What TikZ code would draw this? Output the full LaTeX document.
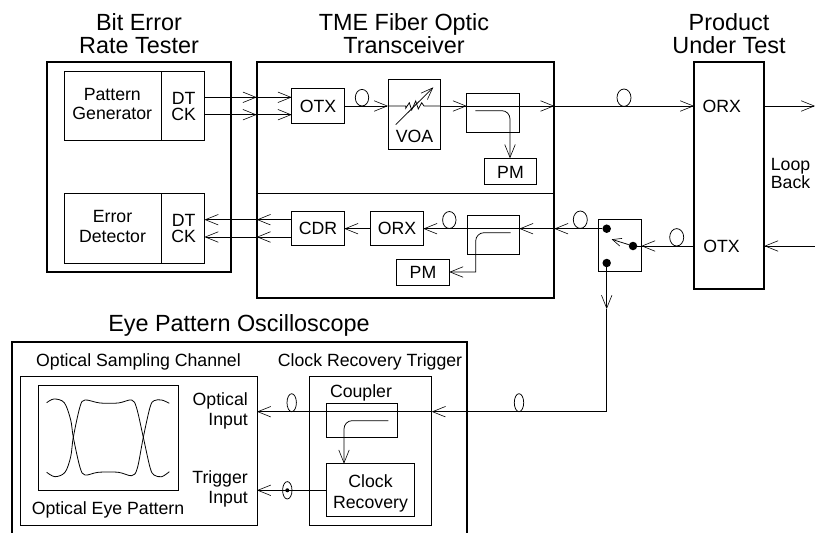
\documentclass[tikz,border=0pt]{standalone}
\usepackage{fontspec}
\setmainfont{Liberation Sans}
\usetikzlibrary{arrows.meta}
\tikzset{
 x=1pt,y=-1pt,
 box/.style={draw,line width=0.75pt,inner sep=0pt,outer sep=0pt,anchor=north west},
 heavy/.style={line width=1.7pt},
 plain/.style={line width=0.75pt},
 arr/.style={plain,-{Straight Barb[length=13pt,width=10.5pt,line width=0.6pt]}},
 arrs/.style={plain,-{Straight Barb[length=9pt,width=8pt,line width=0.6pt]}},
 lbl/.style={font=\fontsize{17.7}{#1}\selectfont,align=center,inner sep=0pt},
 lbl/.default=20,
 ttl/.style={font=\fontsize{23.4}{23}\selectfont,align=center,inner sep=0pt},
 dot/.style={circle,fill=black,inner sep=0pt,minimum size=8.5pt},
 fibthin/.style={line width=0.75pt},
 eyecurve/.style={line width=0.8pt,smooth,tension=0.55},
}
\newcommand{\bx}[6][]{\node[box,#1,minimum width=#4-#2,minimum height=#5-#3] (#6) at (#2,#3) {};}
\begin{document}
\begin{tikzpicture}
\useasboundingbox (0,0) rectangle (815,533);
% titles
\node[ttl] (t1) at (139,34) {Bit Error\\Rate Tester};
\node[ttl] (t2) at (404,34) {TME Fiber Optic\\Transceiver};
\node[ttl] (t3) at (729,34) {Product\\Under Test};
\node[ttl] (t4) at (239,325.5) {Eye Pattern Oscilloscope};
% outer boxes
\bx[heavy]{47}{62.3}{230.7}{271.7}{bert}
\bx[heavy]{256.7}{62.3}{554.3}{298.3}{tme}
\bx[heavy]{694}{62.3}{764.3}{289}{put}
\bx[heavy]{11.7}{341.7}{466.7}{533.5}{scope}
\coordinate (ydiv) at (0,193);
\draw[plain] (tme.west |- ydiv) -- (tme.east |- ydiv);
% BERT
\bx{64.5}{71.3}{204.5}{140.7}{pg}
\bx{64.5}{193.3}{204.5}{263}{ed}
\coordinate (xdiv) at (161,0);
\draw[plain] (xdiv |- pg.north) -- (xdiv |- pg.south);
\draw[plain] (xdiv |- ed.north) -- (xdiv |- ed.south);
\node[lbl=19] (n1) at (112.3,104) {Pattern\\Generator};
\node[lbl=20] (n2) at (112.5,226) {Error\\Detector};
\node[lbl=16.5] (n3) at (183.7,106.5) {DT\\CK};
\node[lbl=16.5] (n4) at (183.7,228.7) {DT\\CK};
% TME
\bx{291.7}{88.7}{344.3}{123.3}{otx}
\node[lbl] (otxl) at (318,106.5) {OTX};
\bx{388}{79.7}{440.7}{149.7}{voa}
\node[lbl] (voal) at (414.5,136.8) {VOA};
\bx{466.7}{93}{519.3}{132.3}{cp1}
\bx{484.3}{158.3}{536.7}{184.7}{pm1}
\node[lbl] (pm1l) at (510.5,172) {PM};
\bx{291.7}{211}{344.3}{245.7}{cdr}
\node[lbl] (cdrl) at (318,228.8) {CDR};
\bx{370.7}{211}{423.3}{245.7}{orxa}
\node[lbl] (orxal) at (397,228.8) {ORX};
\bx{467}{215.3}{519.3}{254.3}{cp2}
\bx{396.7}{259}{449.3}{285}{pm2}
\node[lbl] (pm2l) at (423,272.5) {PM};
% rows
\coordinate (yA) at (0,97.3);
\coordinate (yB) at (0,114.7);
\coordinate (yC) at (0,106);
\coordinate (yE) at (0,219.7);
\coordinate (yF) at (0,237);
% forward row
\draw[arr] (pg.east |- yA) -- (tme.west |- yA);
\draw[arr] (pg.east |- yB) -- (tme.west |- yB);
\draw[arr] (tme.west |- yA) -- (otx.west |- yA);
\draw[arr] (tme.west |- yB) -- (otx.west |- yB);
\draw[arr] (otx.east |- yC) -- (voa.west |- yC);
\draw[fibthin] (362,97.7) ellipse [x radius=6.7pt,y radius=8.3pt];
\coordinate (zl) at (405.7,106);
\coordinate (zr) at (424,106);
\draw[plain] (voa.west |- yC) -- (zl) -- (405.7,108.3) -- (409.3,102.7) -- (411.7,110) -- (415.7,101) -- (418.3,109) -- (421.7,102.7) -- (zr) -- (voa.east |- yC);
\coordinate (va) at (395.7,124.7);
\coordinate (vb) at (433.3,87.3);
\draw[plain,-{Straight Barb[length=12pt,width=9pt,line width=0.6pt]}] (va) -- (vb);
\draw[arr] (voa.east |- yC) -- (cp1.west |- yC);
\draw[arr] (cp1.west |- yC) -- (tme.east |- yC);
\draw[arr] (tme.east |- yC) -- (put.west |- yC);
\draw[fibthin] (624,97.7) ellipse [x radius=7pt,y radius=8.7pt];
\coordinate (c1a) at (475.3,110.7);
\coordinate (c1b) at (502,110.7);
\coordinate (c1c) at (510,119);
\draw[arr] (c1a) -- (c1b) to[out=0,in=90] (c1c) -- (c1c |- pm1.north);
% return row
\node[dot] (d1) at (606.7,228.7) {};
\node[dot] (d2) at (633,246) {};
\node[dot] (d3) at (606.7,263) {};
\draw[arr] (d1) -- (tme.east |- d1);
\draw[arr] (tme.east |- d1) -- (cp2.east |- d1);
\draw[arr] (cp2.east |- d1) -- (orxa.east |- d1);
\draw[arr] (orxa.west |- d1) -- (cdr.east |- d1);
\draw[arr] (cdr.west |- yE) -- (tme.west |- yE);
\draw[arr] (cdr.west |- yF) -- (tme.west |- yF);
\draw[arr] (tme.west |- yE) -- (ed.east |- yE);
\draw[arr] (tme.west |- yF) -- (ed.east |- yF);
\draw[fibthin] (449.3,220) ellipse [x radius=6.7pt,y radius=8.5pt];
\draw[fibthin] (580.3,219.7) ellipse [x radius=7pt,y radius=8.7pt];
\draw[fibthin] (676.7,237.3) ellipse [x radius=7pt,y radius=8.7pt];
\coordinate (c2a) at (510.7,232.7);
\coordinate (c2b) at (484,232.7);
\coordinate (c2c) at (475.7,241);
\coordinate (c2d) at (475.7,272);
\draw[arr] (c2a) -- (c2b) to[out=180,in=90] (c2c) -- (c2d) -- (pm2.east |- c2d);
% switch
\bx{598}{219.7}{641.3}{271.7}{sw}
\coordinate (swt) at (611.7,239.3);
\draw[arrs] (d2) -- (swt);
\draw[arr] (put.west |- d2) -- (sw.east |- d2);
\draw[plain] (sw.east |- d2) -- (d2);
% PUT
\node[lbl] (orxb) at (721.7,106.5) {ORX};
\node[lbl] (otxb) at (721.5,246.5) {OTX};
\coordinate (er) at (815,0);
\draw[arr] (put.east |- yC) -- (er |- yC);
\draw[arr] (er |- d2) -- (put.east |- d2);
\node[lbl=18.3,align=left,anchor=west] (lb) at (770.7,173.5) {Loop\\Back};
% vertical
\coordinate (vm) at (606.7,309);
\coordinate (vc) at (606.7,411.7);
\draw[arr] (d3) -- (vm);
\draw[plain] (vm) -- (vc);
% scope
\node[lbl] (o1) at (138.5,361.5) {Optical Sampling Channel};
\node[lbl] (o2) at (370,361.5) {Clock Recovery Trigger};
\bx{20.7}{376.7}{257}{525}{osc}
\bx{38.3}{385.3}{178.3}{490.3}{eye}
\bx{309.3}{376.7}{431.7}{525}{crt}
\bx{326.7}{403}{397}{437.7}{cpl}
\bx{326.7}{463.7}{414.3}{516.7}{clk}
\node[lbl] (cl) at (361,392.5) {Coupler};
\node[lbl=20.5] (cr) at (370.5,493.5) {Clock\\Recovery};
\node[lbl,align=right,anchor=east] (oi) at (248,411) {Optical\\Input};
\node[lbl,align=right,anchor=east] (ti) at (248,489) {Trigger\\Input};
\node[lbl] (oe) at (108,509.5) {Optical Eye Pattern};
\draw[arr] (vc) -- (crt.east |- vc);
\draw[arr] (crt.east |- vc) -- (osc.east |- vc);
\coordinate (yT) at (0,490.3);
\draw[arr] (clk.west |- yT) -- (osc.east |- yT);
\draw[fibthin] (291.7,402.7) ellipse [x radius=4.7pt,y radius=9pt];
\draw[fibthin] (519,402.7) ellipse [x radius=4.7pt,y radius=9pt];
\draw[fibthin] (287.3,490.3) ellipse [x radius=4.7pt,y radius=8.7pt];
\fill (287.3,490.3) circle (2pt);
\coordinate (c3a) at (388.3,420.7);
\coordinate (c3b) at (352,420.7);
\coordinate (c3c) at (344,429);
\draw[arr] (c3a) -- (c3b) to[out=180,in=90] (c3c) -- (c3c |- clk.north);
% eye pattern
\draw[eyecurve] plot coordinates {(46.7,402.7) (54,399) (64.3,402.7) (70.7,420) (73.3,437.3) (80,467.3) (85,475) (98.3,472.3) (118.3,472.3) (131.7,475.7) (137.3,468.3) (143.3,437.3) (150,407.3) (154,400.7) (161.7,400) (169.3,403.3)};
\draw[eyecurve] plot coordinates {(46.7,472.3) (55,476.7) (65,472.3) (70.7,456.7) (73.3,437.3) (80,406.7) (85,400) (100,403) (118.3,403) (131.7,400) (136.7,408.3) (143.3,437.3) (150,467.3) (154,475) (161.7,476.7) (169.3,471.7)};
\end{tikzpicture}
\end{document}
